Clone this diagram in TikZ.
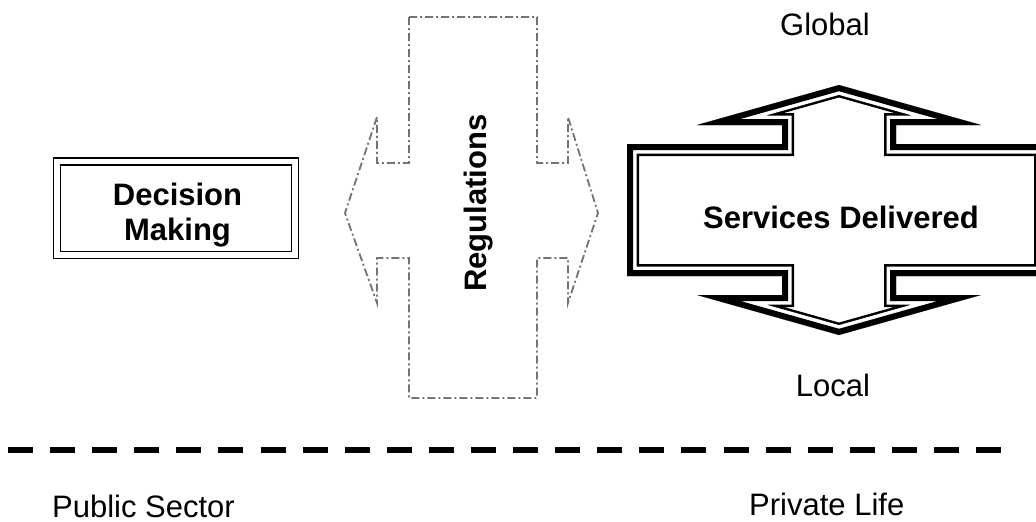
\documentclass[tikz,border=0pt]{standalone}
\usepackage{fontspec}
\setmainfont{Liberation Sans}
\begin{document}
\begin{tikzpicture}[x=1pt,y=-1pt,
  lbl/.style={inner sep=0pt, font=\fontsize{31}{36}\selectfont},
  lblb/.style={inner sep=0pt, font=\fontsize{31}{36}\selectfont\bfseries},
  regline/.style={draw=black!55, line width=1.8pt, line join=miter,
                  dash pattern=on 8pt off 3pt on 2pt off 3pt},
  divider/.style={line width=6pt, dash pattern=on 25pt off 17.09pt},
  framebox/.style={draw, line width=1.5pt, double, double distance=5.9pt,
                   inner sep=0pt},
]
% canvas
\fill[white] (0,0) rectangle (1036,522);
\useasboundingbox (0,0) rectangle (1036,522);

% outline of the double-headed block arrow
\def\svcpath{(627,144) -- (782,144) -- (782,125) -- (697,125) -- (839,85)
  -- (981,125) -- (896,125) -- (896,144) -- (1046,144) -- (1046,276)
  -- (896,276) -- (896,295) -- (981,295) -- (839,335) -- (697,295)
  -- (782,295) -- (782,276) -- (627,276) -- cycle}

% Decision Making box
\node[framebox, minimum width=238pt, minimum height=93.5pt] (dmbox) at (176,208.25) {};
\node[lblb, anchor=base] (dm1) at (177.5,205) {Decision};
\node[lblb, anchor=base] (dm2) at (177.5,240.5) {Making};

% Regulations cross with side arrowheads
\draw[regline] (409,17) -- (537,17) -- (537,163) -- (568,163) -- (568,117)
  -- (598,213) -- (568,303) -- (568,258) -- (537,258) -- (537,398)
  -- (409,398) -- (409,258) -- (377,258) -- (377,303) -- (345,213)
  -- (377,117) -- (377,163) -- (409,163) -- cycle;
\node[lblb, rotate=90, anchor=base] (reg) at (486,203) {Regulations};

% Services Delivered: thick outer line, white gap, thin inner line
\begin{scope}
  \clip \svcpath;
  \draw[line width=24pt, line join=miter] \svcpath;
  \draw[white, line width=19pt, line join=miter] \svcpath;
  \draw[line width=12pt, line join=miter] \svcpath;
\end{scope}
\node[lblb, anchor=base] (svc) at (841,228) {Services Delivered};

\node[lbl, anchor=base] (global) at (825,35) {Global};
\node[lbl, anchor=base] (local) at (833,396) {Local};

% divider between the two spheres
\coordinate (dl) at (8,450);
\coordinate (dr) at (1001,450);
\draw[divider] (dl) -- (dr);

\node[lbl, anchor=base west] (pub) at (52,517) {Public Sector};
\node[lbl, anchor=base west] (priv) at (749,515) {Private Life};
\end{tikzpicture}
\end{document}
